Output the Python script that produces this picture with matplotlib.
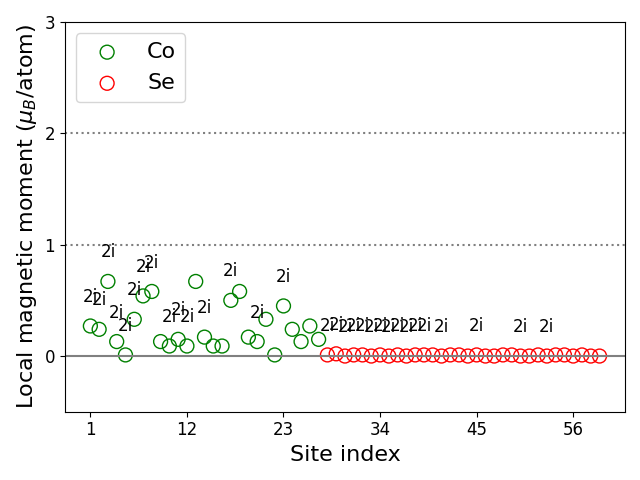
import matplotlib.pyplot as plt

# site indices and local moments (mu_B/atom)
co_sites = list(range(1, 28))
co_moments = [0.27, 0.24, 0.67, 0.13, 0.01, 0.33, 0.54, 0.58, 0.13, 0.09,
              0.15, 0.09, 0.67, 0.17, 0.09, 0.09, 0.50, 0.58, 0.17, 0.13,
              0.33, 0.01, 0.45, 0.24, 0.13, 0.27, 0.15]

se_sites = list(range(28, 60))
se_moments = [0.01, 0.02, 0.00, 0.01, 0.01, 0.00, 0.01, 0.00, 0.01, 0.00,
              0.01, 0.01, 0.01, 0.00, 0.01, 0.01, 0.00, 0.01, 0.00, 0.00,
              0.01, 0.01, 0.00, 0.00, 0.01, 0.00, 0.01, 0.01, 0.00, 0.01,
              0.00, 0.00]

# sites that carry a Wyckoff label
labelled = [1, 2, 3, 4, 5, 6, 7, 8, 10, 11, 12, 14, 17, 20, 23,
            28, 29, 30, 31, 32, 33, 34, 35, 36, 37, 38, 39, 41, 45, 50, 53]
wyckoff = '2i'

fig, ax = plt.subplots(figsize=(6.4, 4.8), dpi=100)

ax.scatter(co_sites, co_moments, s=100, facecolors='none', edgecolors='green', label='Co')
ax.scatter(se_sites, se_moments, s=100, facecolors='none', edgecolors='red', label='Se')

all_sites = co_sites + se_sites
all_moments = co_moments + se_moments
for s in labelled:
    i = all_sites.index(s)
    ax.text(s, all_moments[i] + 0.26, wyckoff, ha='center', va='center', fontsize=12)

ax.axhline(0, color='gray', lw=1.5)
ax.axhline(1, color='gray', ls=':', lw=1.5)
ax.axhline(2, color='gray', ls=':', lw=1.5)

ax.set_ylim(-0.5, 3)
ax.set_yticks([0, 1, 2, 3])
ax.set_xticks([1, 12, 23, 34, 45, 56])
ax.tick_params(labelsize=12)
ax.set_xlabel('Site index', fontsize=16)
ax.set_ylabel(r'Local magnetic moment ($\mu_B$/atom)', fontsize=16)
ax.legend(loc='upper left', fontsize=16)

plt.tight_layout()
plt.savefig('out.png')
